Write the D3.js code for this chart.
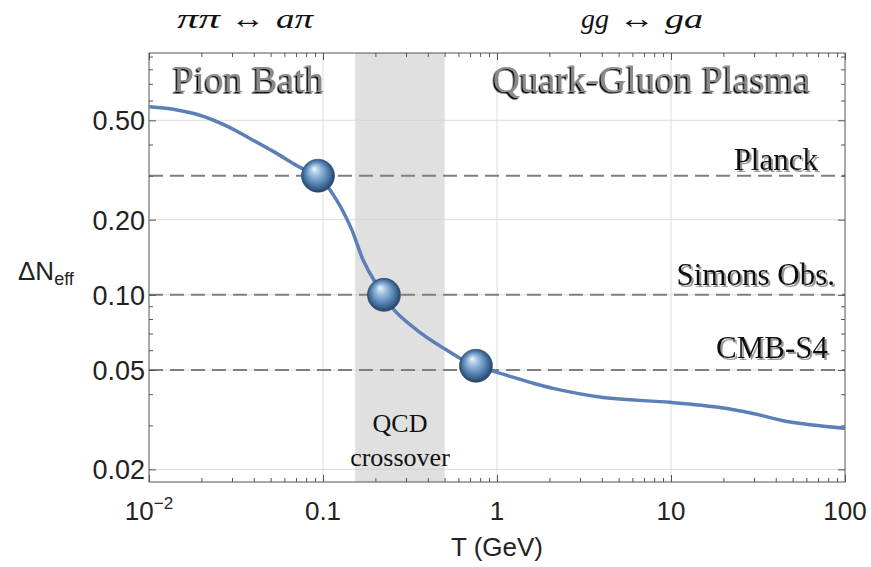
<!DOCTYPE html>
<html>
<head>
<meta charset="utf-8">
<script src="https://cdn.jsdelivr.net/npm/d3@7"></script>
<style>
  body { margin: 0; background: #fff; }
  svg { display: block; }
</style>
</head>
<body>
<div class="chart"></div>
<script>
let FRAME_WIDTH = 871;
let FRAME_HEIGHT = 567;
let PLOT = {left: 149, right: 845, top: 53, bottom: 482};

// curve: T in GeV, Delta N_eff
let temps = [0.01, 0.0145, 0.0196, 0.0273, 0.038, 0.053, 0.0738, 0.0936, 0.12, 0.145, 0.17,
             0.2, 0.224, 0.26, 0.36, 0.516, 0.757, 1.0, 1.55, 2.1, 4.07, 9.86, 19.1, 29.6, 46.5, 100];
let deltaN = [0.566, 0.55, 0.524, 0.478, 0.423, 0.372, 0.324, 0.3, 0.239, 0.185, 0.138,
              0.112, 0.1, 0.086, 0.0708, 0.060, 0.0516, 0.0489, 0.0446, 0.0422, 0.0388, 0.0371, 0.0354, 0.0335, 0.0311, 0.0292];

// experiment sensitivities (dashed lines)
let expNames = ["Planck", "Simons Obs.", "CMB-S4"];
let expValues = [0.3, 0.1, 0.05];

// spheres where the curve crosses them
let ballT = [0.0936, 0.224, 0.757];
let ballN = [0.3, 0.1, 0.052];

// QCD crossover band
let crossover = [0.153, 0.5];

let xMajor = [0.01, 0.1, 1, 10, 100];
let xLabels = ["10", "0.1", "1", "10", "100"];
let yMajor = [0.02, 0.05, 0.1, 0.2, 0.5];
let yLabels = ["0.02", "0.05", "0.10", "0.20", "0.50"];
let yMinor = [0.03, 0.04, 0.06, 0.07, 0.08, 0.09, 0.3, 0.4, 0.6, 0.7, 0.8, 0.9];
let xGrid = [0.1, 1, 10];

let xMinor = [];
[0.01, 0.1, 1, 10].forEach(d => {
  for (let k = 2; k <= 9; k++) xMinor.push(d * k);
});

let svg = d3.select(".chart").append("svg")
  .attr("width", FRAME_WIDTH)
  .attr("height", FRAME_HEIGHT);

let defs = svg.append("defs");
let grad = defs.append("radialGradient")
  .attr("id", "ball")
  .attr("cx", "50%").attr("cy", "50%").attr("r", "55%")
  .attr("fx", "38%").attr("fy", "28%");
grad.append("stop").attr("offset", "0%").attr("stop-color", "#eef6fd");
grad.append("stop").attr("offset", "28%").attr("stop-color", "#9dbfe0");
grad.append("stop").attr("offset", "68%").attr("stop-color", "#4a78a8");
grad.append("stop").attr("offset", "100%").attr("stop-color", "#1c3552");

// text shadows
defs.append("filter").attr("id", "darkShadow")
  .append("feDropShadow")
  .attr("dx", -1.5).attr("dy", 1.5).attr("stdDeviation", 0.4)
  .attr("flood-color", "#000").attr("flood-opacity", 1);
defs.append("filter").attr("id", "greyShadow")
  .append("feDropShadow")
  .attr("dx", 2).attr("dy", 2).attr("stdDeviation", 0.6)
  .attr("flood-color", "#999").attr("flood-opacity", 1);

const X_SCALE = d3.scaleLog().domain([0.01, 100]).range([PLOT.left, PLOT.right]);
const Y_SCALE = d3.scaleLog().domain([0.0178, 0.93]).range([PLOT.bottom, PLOT.top]);

// grid
svg.append("g").selectAll("line").data(xGrid).enter().append("line")
  .attr("x1", d => X_SCALE(d)).attr("x2", d => X_SCALE(d))
  .attr("y1", PLOT.top).attr("y2", PLOT.bottom)
  .attr("stroke", "#dcdcdc").attr("stroke-width", 1);
svg.append("g").selectAll("line").data(yMajor).enter().append("line")
  .attr("x1", PLOT.left).attr("x2", PLOT.right)
  .attr("y1", d => Y_SCALE(d)).attr("y2", d => Y_SCALE(d))
  .attr("stroke", "#dcdcdc").attr("stroke-width", 1);

// crossover band
svg.append("rect")
  .attr("x", X_SCALE(crossover[0]))
  .attr("y", PLOT.top)
  .attr("width", X_SCALE(crossover[1]) - X_SCALE(crossover[0]))
  .attr("height", PLOT.bottom - PLOT.top)
  .attr("fill", "#cfcfcf")
  .attr("fill-opacity", 0.65);

// dashed experiment lines
svg.append("g").selectAll("line").data(expValues).enter().append("line")
  .attr("x1", PLOT.left).attr("x2", PLOT.right)
  .attr("y1", d => Y_SCALE(d)).attr("y2", d => Y_SCALE(d))
  .attr("stroke", "#7f7f7f").attr("stroke-width", 2)
  .attr("stroke-dasharray", "14,7");

// axes (ticks pointing inward, Mathematica style)
function tickAxis(axisFn, scale, vals, size, transform) {
  svg.append("g")
    .attr("transform", transform)
    .call(axisFn(scale).tickValues(vals).tickSize(-size).tickFormat(""))
    .call(g => g.select(".domain").remove())
    .call(g => g.selectAll("line").attr("stroke", "#555"));
}
tickAxis(d3.axisBottom, X_SCALE, xMinor, 4, "translate(0," + PLOT.bottom + ")");
tickAxis(d3.axisBottom, X_SCALE, xMajor, 7, "translate(0," + PLOT.bottom + ")");
tickAxis(d3.axisTop, X_SCALE, xMinor, 4, "translate(0," + PLOT.top + ")");
tickAxis(d3.axisTop, X_SCALE, xMajor, 7, "translate(0," + PLOT.top + ")");
tickAxis(d3.axisLeft, Y_SCALE, yMinor, 4, "translate(" + PLOT.left + ",0)");
tickAxis(d3.axisLeft, Y_SCALE, yMajor, 7, "translate(" + PLOT.left + ",0)");
tickAxis(d3.axisRight, Y_SCALE, yMinor, 4, "translate(" + PLOT.right + ",0)");
tickAxis(d3.axisRight, Y_SCALE, yMajor, 7, "translate(" + PLOT.right + ",0)");

// tick labels
svg.append("g").selectAll("text").data(xMajor).enter().append("text")
  .attr("x", d => X_SCALE(d))
  .attr("y", 520)
  .attr("text-anchor", "middle")
  .attr("font-family", "Liberation Sans, Arial, sans-serif")
  .attr("font-size", 26)
  .attr("fill", "#222")
  .each(function(d, i) {
    let t = d3.select(this);
    t.append("tspan").text(xLabels[i]);
    if (i === 0) {
      t.append("tspan").attr("font-size", 17).attr("dy", -11).text("\u22122");
    }
  });

svg.append("g").selectAll("text").data(yMajor).enter().append("text")
  .attr("x", 145)
  .attr("y", d => Y_SCALE(d) + 10)
  .attr("text-anchor", "end")
  .attr("font-family", "Liberation Sans, Arial, sans-serif")
  .attr("font-size", 27)
  .attr("fill", "#222")
  .text((d, i) => yLabels[i]);

// frame
svg.append("rect")
  .attr("x", PLOT.left).attr("y", PLOT.top)
  .attr("width", PLOT.right - PLOT.left).attr("height", PLOT.bottom - PLOT.top)
  .attr("fill", "none").attr("stroke", "#555").attr("stroke-width", 1);

// axis titles
svg.append("text")
  .attr("x", 497).attr("y", 556)
  .attr("text-anchor", "middle")
  .attr("font-family", "Liberation Sans, Arial, sans-serif")
  .attr("font-size", 26).attr("fill", "#222")
  .text("T (GeV)");

let yt = svg.append("text")
  .attr("x", 18).attr("y", 280)
  .attr("font-family", "Liberation Sans, Arial, sans-serif")
  .attr("font-size", 26).attr("fill", "#222");
yt.append("tspan").text("\u0394N");
yt.append("tspan").attr("font-size", 18).attr("dy", 5).text("eff");

// the curve
let line = d3.line()
  .x(d => X_SCALE(d[0]))
  .y(d => Y_SCALE(d[1]))
  .curve(d3.curveCatmullRom.alpha(0.5));
svg.append("path")
  .datum(temps.map((t, i) => [t, deltaN[i]]))
  .attr("d", line)
  .attr("fill", "none")
  .attr("stroke", "#5b7fb6")
  .attr("stroke-width", 3.5);

// spheres
svg.append("g").selectAll("circle").data(ballT).enter().append("circle")
  .attr("cx", d => X_SCALE(d))
  .attr("cy", (d, i) => Y_SCALE(ballN[i]))
  .attr("r", 16.5)
  .attr("fill", "url(#ball)")
  .attr("stroke", "#2a4060").attr("stroke-width", 0.6);

// region labels
let serif = "Liberation Serif, Times New Roman, serif";
svg.append("text").attr("x", 173).attr("y", 92)
  .attr("font-family", serif).attr("font-size", 38)
  .attr("fill", "#8a8a8a").attr("filter", "url(#darkShadow)")
  .text("Pion Bath");
svg.append("text").attr("x", 493).attr("y", 92)
  .attr("font-family", serif).attr("font-size", 37.5)
  .attr("fill", "#8a8a8a").attr("filter", "url(#darkShadow)")
  .text("Quark-Gluon Plasma");

let expX = [818, 835, 828];
let expY = [170, 285, 358];
svg.append("g").selectAll("text").data(expNames).enter().append("text")
  .attr("x", (d, i) => expX[i]).attr("y", (d, i) => expY[i])
  .attr("text-anchor", "end")
  .attr("font-family", serif).attr("font-size", 31)
  .attr("fill", "#111").attr("filter", "url(#greyShadow)")
  .text(d => d);

// QCD crossover label
let q = svg.append("text")
  .attr("text-anchor", "middle")
  .attr("font-family", serif)
  .attr("font-size", 26).attr("fill", "#111");
q.append("tspan").attr("x", 400).attr("y", 432).text("QCD");
q.append("tspan").attr("x", 400).attr("y", 466).text("crossover");

// processes on top: [text, left x, width]
function process(parts) {
  parts.forEach((p, i) => {
    let t = svg.append("text")
      .attr("x", p[1]).attr("y", 28)
      .attr("fill", "#111")
      .attr("font-family", serif)
      .attr("font-size", 28)
      .attr("font-style", i === 1 ? "normal" : "italic")
      .attr("textLength", p[2])
      .attr("lengthAdjust", "spacingAndGlyphs")
      .text(p[0]);
  });
}
process([["\u03c0\u03c0", 177, 43], ["\u2194", 230, 35], ["a\u03c0", 276, 37]]);
process([["gg", 581, 28], ["\u2194", 618, 37], ["ga", 665, 38]]);
</script>
</body>
</html>
